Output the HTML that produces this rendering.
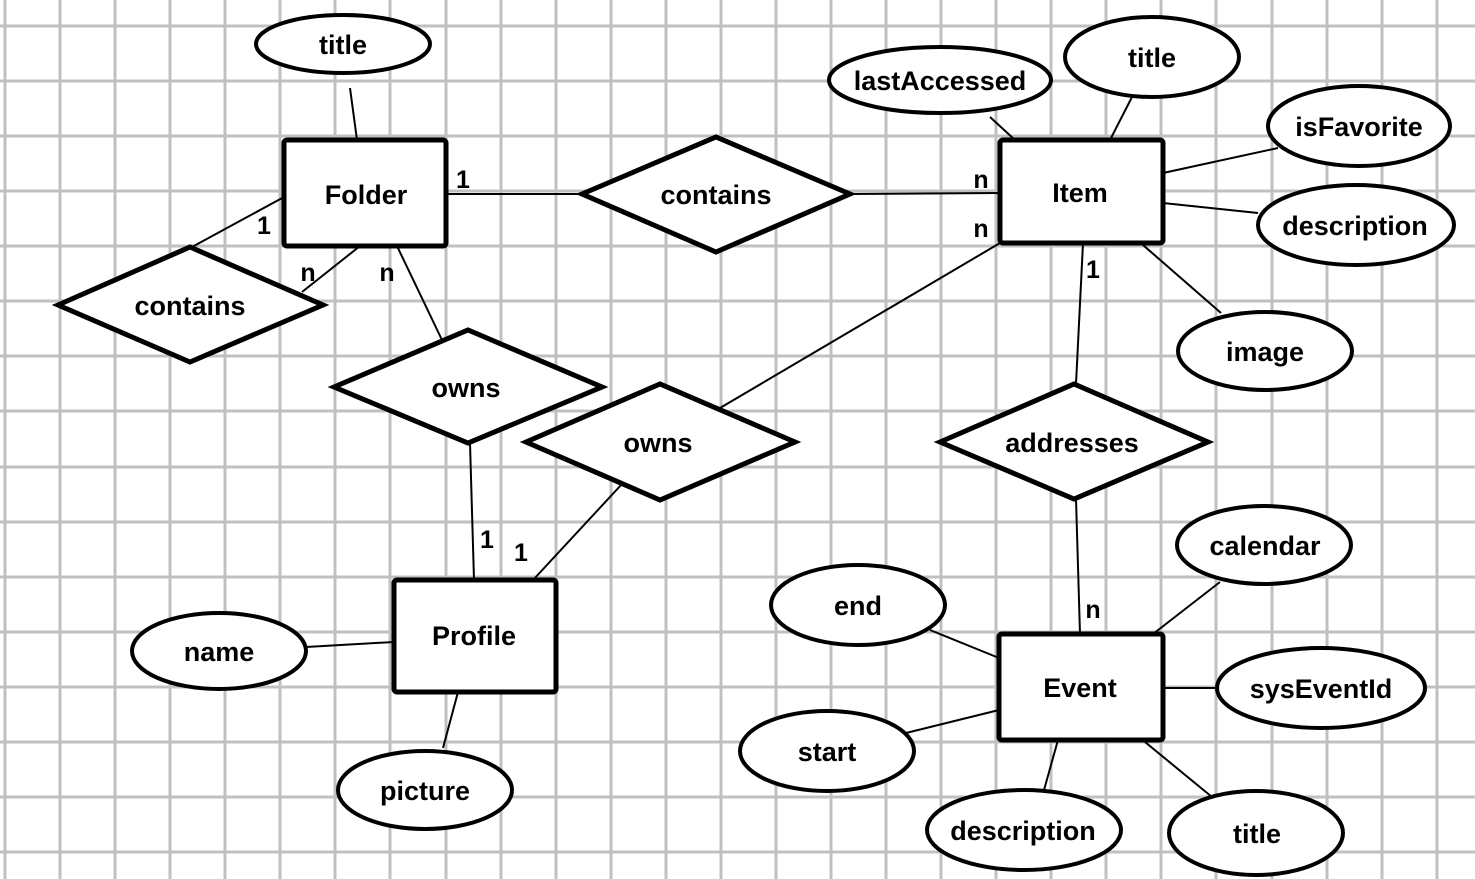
<!DOCTYPE html>
<html><head><meta charset="utf-8"><style>html,body{margin:0;padding:0;background:#fff}svg{display:block}</style></head>
<body>
<svg width="1475" height="879" viewBox="0 0 1475 879" xmlns="http://www.w3.org/2000/svg">
<rect width="1475" height="879" fill="#fff"/>
<g stroke="#c0c0c0" stroke-width="3">
<line x1="5" y1="0" x2="5" y2="879"/><line x1="60" y1="0" x2="60" y2="879"/><line x1="115" y1="0" x2="115" y2="879"/><line x1="170" y1="0" x2="170" y2="879"/><line x1="225" y1="0" x2="225" y2="879"/><line x1="280" y1="0" x2="280" y2="879"/><line x1="335" y1="0" x2="335" y2="879"/><line x1="390" y1="0" x2="390" y2="879"/><line x1="446" y1="0" x2="446" y2="879"/><line x1="501" y1="0" x2="501" y2="879"/><line x1="556" y1="0" x2="556" y2="879"/><line x1="611" y1="0" x2="611" y2="879"/><line x1="666" y1="0" x2="666" y2="879"/><line x1="721" y1="0" x2="721" y2="879"/><line x1="776" y1="0" x2="776" y2="879"/><line x1="831" y1="0" x2="831" y2="879"/><line x1="886" y1="0" x2="886" y2="879"/><line x1="941" y1="0" x2="941" y2="879"/><line x1="996" y1="0" x2="996" y2="879"/><line x1="1051" y1="0" x2="1051" y2="879"/><line x1="1106" y1="0" x2="1106" y2="879"/><line x1="1161" y1="0" x2="1161" y2="879"/><line x1="1216" y1="0" x2="1216" y2="879"/><line x1="1272" y1="0" x2="1272" y2="879"/><line x1="1327" y1="0" x2="1327" y2="879"/><line x1="1382" y1="0" x2="1382" y2="879"/><line x1="1437" y1="0" x2="1437" y2="879"/>
<line y1="26" x1="0" y2="26" x2="1475"/><line y1="81" x1="0" y2="81" x2="1475"/><line y1="136" x1="0" y2="136" x2="1475"/><line y1="191" x1="0" y2="191" x2="1475"/><line y1="246" x1="0" y2="246" x2="1475"/><line y1="301" x1="0" y2="301" x2="1475"/><line y1="356" x1="0" y2="356" x2="1475"/><line y1="411" x1="0" y2="411" x2="1475"/><line y1="467" x1="0" y2="467" x2="1475"/><line y1="522" x1="0" y2="522" x2="1475"/><line y1="577" x1="0" y2="577" x2="1475"/><line y1="632" x1="0" y2="632" x2="1475"/><line y1="687" x1="0" y2="687" x2="1475"/><line y1="742" x1="0" y2="742" x2="1475"/><line y1="797" x1="0" y2="797" x2="1475"/><line y1="852" x1="0" y2="852" x2="1475"/>
</g>
<g stroke="#000" stroke-width="2" fill="none">
<line x1="350" y1="88" x2="357" y2="140"/>
<line x1="446" y1="194" x2="582" y2="194"/>
<line x1="850" y1="194" x2="1000" y2="193"/>
<line x1="284" y1="197" x2="192" y2="247"/>
<line x1="360" y1="246" x2="302" y2="292"/>
<line x1="397" y1="246" x2="442" y2="340"/>
<line x1="470" y1="443" x2="474" y2="580"/>
<line x1="622" y1="484" x2="533" y2="580"/>
<line x1="720" y1="408" x2="1000" y2="243"/>
<line x1="990" y1="117" x2="1015" y2="140"/>
<line x1="1132" y1="97" x2="1110" y2="140"/>
<line x1="1278" y1="148" x2="1163" y2="173"/>
<line x1="1163" y1="203" x2="1258" y2="213"/>
<line x1="1143" y1="245" x2="1221" y2="313"/>
<line x1="1083" y1="243" x2="1076" y2="384"/>
<line x1="1076" y1="499" x2="1080" y2="634"/>
<line x1="1220" y1="582" x2="1153" y2="634"/>
<line x1="930" y1="630" x2="999" y2="658"/>
<line x1="906" y1="733" x2="999" y2="710"/>
<line x1="1163" y1="688" x2="1217" y2="688"/>
<line x1="1058" y1="740" x2="1044" y2="790"/>
<line x1="1145" y1="742" x2="1212" y2="797"/>
<line x1="306" y1="647" x2="394" y2="642"/>
<line x1="458" y1="692" x2="443" y2="748"/>
</g>
<g stroke="#000" stroke-width="5" fill="#fff">
<rect x="284" y="140" width="162" height="106" rx="3"/>
<rect x="1000" y="140" width="163" height="103" rx="3"/>
<rect x="394" y="580" width="162" height="112" rx="3"/>
<rect x="999" y="634" width="164" height="106" rx="3"/>
<polygon points="58,305 190,247 323,305 190,362"/>
<polygon points="334,387 468,330 602,387 468,443"/>
<polygon points="582,194 716,137 850,194 716,252"/>
<polygon points="526,442 660,384 795,442 660,500"/>
<polygon points="940,442 1074,384 1208,442 1074,499"/>
</g>
<g stroke="#000" stroke-width="4" fill="#fff">
<ellipse cx="343" cy="44" rx="87" ry="29"/>
<ellipse cx="940" cy="80" rx="111" ry="33"/>
<ellipse cx="1152" cy="57" rx="87" ry="40"/>
<ellipse cx="1359" cy="126" rx="91" ry="40"/>
<ellipse cx="1356" cy="225" rx="98" ry="40"/>
<ellipse cx="1265" cy="351" rx="87" ry="39"/>
<ellipse cx="219" cy="651" rx="87" ry="38"/>
<ellipse cx="425" cy="790" rx="87" ry="39"/>
<ellipse cx="858" cy="605" rx="87" ry="40"/>
<ellipse cx="827" cy="751" rx="87" ry="40"/>
<ellipse cx="1024" cy="830" rx="97" ry="40"/>
<ellipse cx="1256" cy="833" rx="87" ry="42"/>
<ellipse cx="1264" cy="545" rx="87" ry="39"/>
<ellipse cx="1321" cy="688" rx="104" ry="40"/>
</g>
<g font-family="Liberation Sans, sans-serif" font-weight="bold" font-size="27" text-anchor="middle" fill="#000">
<text x="343" y="54">title</text>
<text x="366" y="204">Folder</text>
<text x="1080" y="202">Item</text>
<text x="474" y="645">Profile</text>
<text x="1080" y="697">Event</text>
<text x="190" y="315">contains</text>
<text x="466" y="397">owns</text>
<text x="716" y="204">contains</text>
<text x="658" y="452">owns</text>
<text x="1072" y="452">addresses</text>
<text x="940" y="90">lastAccessed</text>
<text x="1152" y="67">title</text>
<text x="1359" y="136">isFavorite</text>
<text x="1355" y="235">description</text>
<text x="1265" y="361">image</text>
<text x="219" y="661">name</text>
<text x="425" y="800">picture</text>
<text x="858" y="615">end</text>
<text x="827" y="761">start</text>
<text x="1023" y="840">description</text>
<text x="1257" y="843">title</text>
<text x="1265" y="555">calendar</text>
<text x="1321" y="698">sysEventId</text>
<g font-size="25">
<text x="463" y="188">1</text>
<text x="981" y="188">n</text>
<text x="264" y="234">1</text>
<text x="308" y="281">n</text>
<text x="387" y="281">n</text>
<text x="981" y="237">n</text>
<text x="1093" y="278">1</text>
<text x="487" y="548">1</text>
<text x="521" y="561">1</text>
<text x="1093" y="618">n</text>
</g>
</g>
</svg>
</body></html>
